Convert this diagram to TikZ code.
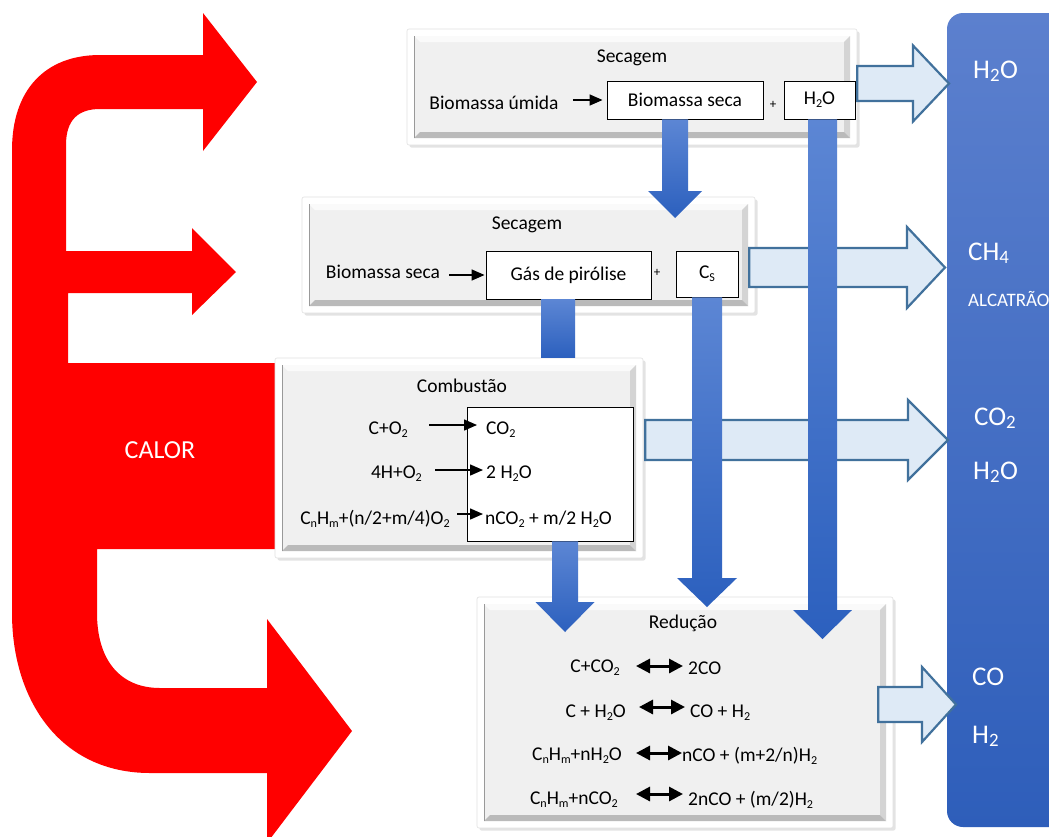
\documentclass[tikz,border=0pt]{standalone}
\usepackage{fontspec}
\setmainfont{Carlito}
\usetikzlibrary{arrows.meta,calc,shadows}

\definecolor{calorred}{RGB}{255,0,0}
\definecolor{bartop}{RGB}{92,128,206}
\definecolor{barbot}{RGB}{46,94,186}
\definecolor{flowtop}{RGB}{92,134,212}
\definecolor{flowbot}{RGB}{44,96,190}
\definecolor{outfill}{RGB}{222,234,246}
\definecolor{outline}{RGB}{65,113,156}

% small chemical subscript used inside the stage boxes
\newcommand\ix[1]{\raisebox{-0.35ex}{\scalebox{0.62}{#1}}}
% larger subscript for the product column
\newcommand\bx[1]{\textsubscript{#1}}

% downward block arrow: from, to, half shaft width, half head width, head length
\newcommand\dnflow[5]{%
  \path[flow] let \p1=(#1), \p2=(#2) in
    (\x1-#3,\y1) -- (\x1+#3,\y1) -- (\x1+#3,\y2+#5) -- (\x1+#4,\y2+#5)
    -- (\x1,\y2) -- (\x1-#4,\y2+#5) -- (\x1-#3,\y2+#5) -- cycle;}
% rightward block arrow: from, to, half shaft height, half head height, head length
\newcommand\outflow[5]{%
  \path[outarrow] let \p1=(#1), \p2=(#2) in
    (\x1,\y1+#3) -- (\x2-#5,\y1+#3) -- (\x2-#5,\y1+#4) -- (\x2,\y1)
    -- (\x2-#5,\y1-#4) -- (\x2-#5,\y1-#3) -- (\x1,\y1-#3) -- cycle;}

\tikzset{
  panel/.style={rectangle, fill=white, draw=black!12, line width=0.6pt,
    rounded corners=2pt, inner sep=0pt,
    drop shadow={shadow xshift=2.5pt, shadow yshift=-2.5pt, opacity=0.22},
    path picture={
      \coordinate (pSW) at (path picture bounding box.south west);
      \coordinate (pNE) at (path picture bounding box.north east);
      \coordinate (iSW) at ([shift={(7pt,7pt)}]pSW);
      \coordinate (iNE) at ([shift={(-7pt,-7pt)}]pNE);
      \coordinate (iNW) at (iSW |- iNE);
      \coordinate (iSE) at (iNE |- iSW);
      \fill[black!6, sharp corners] (iSW) rectangle (iNE);
      \fill[black!2, sharp corners] (iNW) -- (iNE) -- ([shift={(-6pt,-6pt)}]iNE)
        -- ([shift={(6pt,-6pt)}]iNW) -- cycle;
      \fill[black!17, sharp corners] (iSE) -- (iNE) -- ([shift={(-6pt,-6pt)}]iNE)
        -- ([shift={(-6pt,6pt)}]iSE) -- cycle;
      \fill[black!27, sharp corners] (iSW) -- (iSE) -- ([shift={(-6pt,6pt)}]iSE)
        -- ([shift={(6pt,6pt)}]iSW) -- cycle;
      \draw[black!40, line width=1pt, sharp corners] (iSW) -- (iNW);
    }},
  wbox/.style={draw=black, line width=0.9pt, fill=white, inner sep=0pt},
  txt/.style={inner sep=0pt},
  plus/.style={inner sep=0pt, font=\fontsize{13}{15}\selectfont},
  arr/.style={-{Triangle[length=13pt,width=11pt]}, line width=1.5pt},
  darr/.style={{Triangle[length=14pt,width=14pt]}-{Triangle[length=14pt,width=14pt]},
    line width=3pt},
  flow/.style={top color=flowtop, bottom color=flowbot, draw=none},
  outarrow/.style={fill=outfill, draw=outline, line width=2.2pt, line join=miter},
  bar/.style={rectangle, rounded corners=16pt, top color=bartop, bottom color=barbot,
    draw=none, inner sep=0pt},
  bartext/.style={inner sep=0pt, text=white, anchor=base west,
    font=\fontsize{27}{30}\selectfont},
  calor/.style={fill=calorred, draw=none},
}

\begin{document}
\begin{tikzpicture}[x=1pt, y=-1pt, font=\fontsize{19.5}{23}\selectfont]
\path[use as bounding box] (0,0) rectangle (1049,836);
\clip (0,0) rectangle (1049,836);
\fill[white] (0,0) rectangle (1049,836);

% heat flow feeding the three stages
\fill[calor] (100,55) -- (203,55) -- (203,13) -- (257,82) -- (203,151) -- (203,109) -- (100,109)
  .. controls (78,109) and (66,120) .. (66,145) -- (66,251) -- (192,251) -- (192,228)
  -- (236,272) -- (192,315) -- (192,293) -- (68,293) -- (68,363) -- (282,363) -- (282,549)
  -- (97,549) -- (97,613) .. controls (97,660) and (120,688) .. (160,688) -- (267,688)
  -- (267,619) -- (352,731) -- (267,843) -- (267,773) -- (150,773)
  .. controls (60,773) and (12,700) .. (12,613) -- (12,150)
  .. controls (12,90) and (45,55) .. (100,55) -- cycle;
\node[txt, text=white, font=\fontsize{26}{30}\selectfont] (calor) at (160,450) {CALOR};

% product column
\node[bar, minimum width=140pt, minimum height=814pt] (bar) at (1017,420) {};
\node[bartext] (o1) at (973,78) {H\bx{2}O};
\node[bartext] (o2) at (968,260) {CH\bx{4}};
\node[bartext, font=\fontsize{19}{22}\selectfont] (o3) at (968,306) {ALCATRÃO};
\node[bartext] (o4) at (974,425) {CO\bx{2}};
\node[bartext] (o5) at (973,479) {H\bx{2}O};
\node[bartext] (o6) at (972,685) {CO};
\node[bartext] (o7) at (972,743) {H\bx{2}};

% drying stage
\node[panel, minimum width=450pt, minimum height=116pt] (p1) at (632,87) {};
\node[txt] (t1) at (632,58) {Secagem};
\node[wbox, minimum width=156pt, minimum height=38pt] (bs1) at (685,100) {Biomassa seca};
\node[wbox, minimum width=71pt, minimum height=38pt] (w1) at (819.5,100) {H\ix{2}O};
\node[txt] (bu) at (494,103) {Biomassa úmida};
\node[plus] (pl1) at (773,105) {+};
\draw[arr, shorten <=14pt, shorten >=4pt] (bu.east |- bs1.west) -- (bs1.west);

% pyrolysis stage
\node[panel, minimum width=453pt, minimum height=116pt] (p2) at (528.5,255) {};
\node[txt] (t2) at (527,225) {Secagem};
\node[wbox, minimum width=165pt, minimum height=48pt] (gas) at (568.5,275) {Gás de pirólise};
\node[wbox, minimum width=62pt, minimum height=46pt] (cs) at (707,274) {C\ix{S}};
\node[txt] (bs2) at (383,272) {Biomassa seca};
\node[plus] (pl2) at (657,273) {+};
\draw[arr, shorten <=9pt, shorten >=1pt] (bs2.east |- gas.west) -- (gas.west);

% combustion stage
\node[panel, minimum width=368pt, minimum height=200pt] (p3) at (459,458) {};
\node[txt] (t3) at (462,386) {Combustão};
\node[wbox, minimum width=166pt, minimum height=134pt] (cb) at (550,474) {};
\node[txt, anchor=east] (r1) at (408,430) {C+O\ix{2}};
\node[txt, anchor=east] (r2) at (422,474) {4H+O\ix{2}};
\node[txt, anchor=east] (r3) at (450,519) {C\ix{n}H\ix{m}+(n/2+m/4)O\ix{2}};
\node[txt, anchor=west] (c1) at (486,430) {CO\ix{2}};
\node[txt, anchor=west] (c2) at (486,474) {2 H\ix{2}O};
\node[txt, anchor=west] (c3) at (485,519) {nCO\ix{2} + m/2 H\ix{2}O};
\draw[arr, shorten <=21pt, shorten >=9pt] ([yshift=5pt]r1.east) -- ([yshift=5pt]c1.west);
\draw[arr, shorten <=13pt, shorten >=3pt] ([yshift=4pt]r2.east) -- ([yshift=4pt]c2.west);
\draw[arr, shorten <=7pt, shorten >=2pt] ([yshift=5pt]r3.east) -- ([yshift=5pt]c3.west);

% reduction stage
\node[panel, minimum width=416pt, minimum height=231pt] (p4) at (685,712.5) {};
\node[txt] (t4) at (683,623) {Redução};
\node[txt, anchor=east] (q1) at (620,668) {C+CO\ix{2}};
\node[txt, anchor=east] (q2) at (626,713) {C + H\ix{2}O};
\node[txt, anchor=east] (q3) at (622,756) {C\ix{n}H\ix{m}+nH\ix{2}O};
\node[txt, anchor=east] (q4) at (618,800) {C\ix{n}H\ix{m}+nCO\ix{2}};
\node[txt, anchor=west] (s1) at (688,668) {2CO};
\node[txt, anchor=west] (s2) at (690,713) {CO + H\ix{2}};
\node[txt, anchor=west] (s3) at (682,756) {nCO + (m+2/n)H\ix{2}};
\node[txt, anchor=west] (s4) at (688,800) {2nCO + (m/2)H\ix{2}};
\draw[darr, shorten <=16pt, shorten >=5pt] ([yshift=2pt]q1.east) -- ([yshift=2pt]s1.west);
\draw[darr, shorten <=13pt, shorten >=5pt] ([yshift=6pt]q2.east) -- ([yshift=6pt]s2.west);
\draw[darr, shorten <=14pt, shorten >=0pt] ([yshift=3pt]q3.east) -- ([yshift=3pt]s3.west);
\draw[darr, shorten <=18pt, shorten >=5pt] ([yshift=6pt]q4.east) -- ([yshift=6pt]s4.west);

% outputs to the product column
\coordinate (e1) at (949,83.5);
\coordinate (e2) at (945,267.5);
\coordinate (e3) at (948,440);
\coordinate (e4) at (956,704.5);
\outflow{[yshift=3.5pt]p1.east}{e1}{17.5pt}{38pt}{36pt}
\outflow{[xshift=-6pt,yshift=-12.5pt]p2.east}{e2}{19.5pt}{40.5pt}{38pt}
\outflow{[xshift=2pt,yshift=18pt]p3.east}{e3}{20pt}{40pt}{40pt}
\outflow{[xshift=-15pt,yshift=8pt]p4.east}{e4}{17.5pt}{37.5pt}{34pt}

% material flow between stages
\coordinate (d1) at (675,218);
\coordinate (d2) at (822.5,639);
\coordinate (d4) at (707,607);
\coordinate (d5) at (565,632);
\dnflow{[xshift=-10pt]bs1.south}{d1}{13pt}{27pt}{27pt}
\dnflow{[xshift=3pt]w1.south}{d2}{14.5pt}{29.5pt}{29pt}
\path[flow] ([xshift=-27.5pt]gas.south) rectangle ([xshift=6.5pt]gas.south |- p3.north);
\dnflow{cs.south}{d4}{15pt}{30pt}{29pt}
\dnflow{[xshift=15pt]cb.south}{d5}{13pt}{29.5pt}{30pt}
\end{tikzpicture}
\end{document}
